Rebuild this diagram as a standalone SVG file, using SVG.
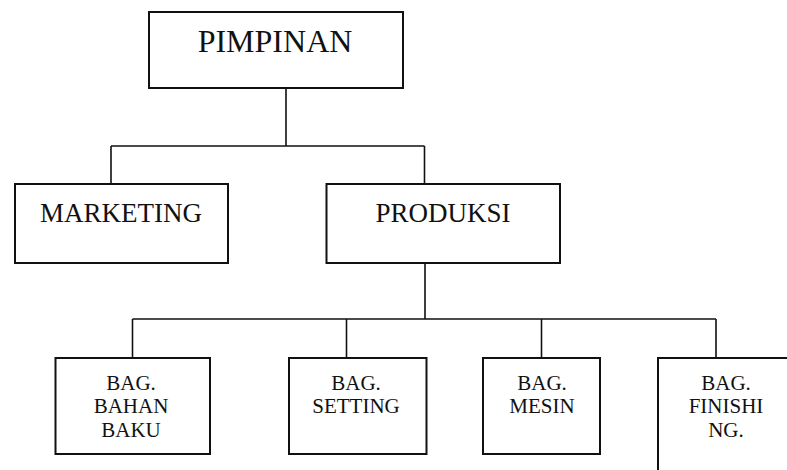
<svg xmlns="http://www.w3.org/2000/svg" width="787" height="470" viewBox="0 0 787 470">
<style>
.box{fill:#fff;stroke:#111;stroke-width:2}
.ln{fill:none;stroke:#111;stroke-width:1.6}
text{font-family:"Liberation Serif","Times New Roman",serif;fill:#111;text-anchor:middle}
.big{font-size:32px}
.mid{font-size:27px}
.sm{font-size:21px}
</style>
<rect width="787" height="470" fill="#fff"/>
<g id="connectors">
<path class="ln" d="M286 88V146M111 146H424.5M111 146V184M424.5 146V184"/>
<path class="ln" d="M425 263V319M132.5 319H716M132.5 319V358M346.5 319V358M541.5 319V358M716 319V358"/>
</g>
<g id="pimpinan">
<rect class="box" x="149" y="12" width="254" height="76"/>
<text class="big" x="275" y="52">PIMPINAN</text>
</g>
<g id="marketing">
<rect class="box" x="15" y="184" width="213" height="79"/>
<text class="mid" x="121" y="222">MARKETING</text>
</g>
<g id="produksi">
<rect class="box" x="326.5" y="184" width="233.5" height="79"/>
<text class="mid" x="443" y="222">PRODUKSI</text>
</g>
<g id="bahan-baku">
<rect class="box" x="55.5" y="358" width="154.5" height="96"/>
<text class="sm" x="131" y="390">BAG.</text>
<text class="sm" x="131" y="413">BAHAN</text>
<text class="sm" x="131" y="437">BAKU</text>
</g>
<g id="setting">
<rect class="box" x="289" y="358" width="137.5" height="96"/>
<text class="sm" x="356" y="390">BAG.</text>
<text class="sm" x="356" y="413">SETTING</text>
</g>
<g id="mesin">
<rect class="box" x="483" y="358" width="117" height="96"/>
<text class="sm" x="542" y="390">BAG.</text>
<text class="sm" x="542" y="413">MESIN</text>
</g>
<g id="finishing">
<rect class="box" x="658" y="358" width="140" height="130"/>
<text class="sm" x="726" y="390">BAG.</text>
<text class="sm" x="726" y="413">FINISHI</text>
<text class="sm" x="726" y="437">NG.</text>
</g>
</svg>
